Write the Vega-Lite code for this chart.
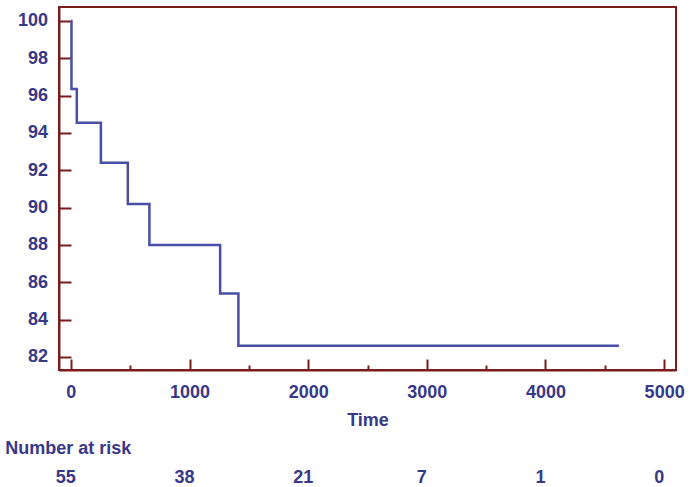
{
  "$schema": "https://vega.github.io/schema/vega-lite/v6.json",
  "width": 617,
  "height": 363,
  "autosize": {"type": "none"},
  "padding": {"left": 59, "top": 7, "right": 13, "bottom": 117},
  "background": "white",
  "config": {
    "view": {"stroke": "#7b1c1c", "strokeWidth": 2},
    "font": "Liberation Sans",
    "axis": {
      "domainColor": "#7b1c1c",
      "domainWidth": 2,
      "tickColor": "#7b1c1c",
      "tickWidth": 2,
      "grid": false,
      "labelColor": "#383888",
      "labelFontSize": 18,
      "labelFontWeight": "bold",
      "titleColor": "#383888",
      "titleFontSize": 18,
      "titleFontWeight": "bold"
    }
  },
  "datasets": {
    "km": [
      {"time": 0, "surv": 100},
      {"time": 5, "surv": 96.36},
      {"time": 50, "surv": 94.55},
      {"time": 253, "surv": 92.4},
      {"time": 480, "surv": 90.2},
      {"time": 662, "surv": 88.0},
      {"time": 1258, "surv": 85.4},
      {"time": 1412, "surv": 82.6},
      {"time": 4619, "surv": 82.6}
    ],
    "risk": [
      {"time": 0, "n": 55},
      {"time": 1000, "n": 38},
      {"time": 2000, "n": 21},
      {"time": 3000, "n": 7},
      {"time": 4000, "n": 1},
      {"time": 5000, "n": 0}
    ],
    "label": [{"text": "Number at risk"}]
  },
  "layer": [
    {
      "data": {"name": "km"},
      "mark": {"type": "line", "interpolate": "step-after", "color": "#4a4ea6", "strokeWidth": 2.5},
      "encoding": {
        "x": {
          "field": "time",
          "type": "quantitative",
          "scale": {"domain": [-100, 5100], "nice": false, "zero": false},
          "axis": {
            "title": "Time",
            "values": [0, 500, 1000, 1500, 2000, 2500, 3000, 3500, 4000, 4500, 5000],
            "labelExpr": "datum.value % 1000 === 0 ? datum.label : ''",
            "format": "d",
            "tickSize": {"condition": {"test": "datum.value % 1000 === 0", "value": -11}, "value": -5},
            "labelPadding": 24,
            "titlePadding": 10
          }
        },
        "y": {
          "field": "surv",
          "type": "quantitative",
          "scale": {"domain": [81.3, 100.75], "nice": false, "zero": false},
          "axis": {
            "title": null,
            "values": [82, 83, 84, 85, 86, 87, 88, 89, 90, 91, 92, 93, 94, 95, 96, 97, 98, 99, 100],
            "labelExpr": "datum.value % 2 === 0 ? datum.label : ''",
            "tickSize": {"condition": {"test": "datum.value % 2 === 0", "value": -12}, "value": -6},
            "labelPadding": 23.5
          }
        }
      }
    },
    {
      "data": {"name": "risk"},
      "mark": {"type": "text", "fontSize": 18, "fontWeight": "bold", "color": "#383888", "align": "center", "baseline": "middle", "dx": -5},
      "encoding": {
        "x": {"field": "time", "type": "quantitative"},
        "y": {"datum": 75.5},
        "text": {"field": "n", "type": "quantitative"}
      }
    },
    {
      "data": {"name": "label"},
      "mark": {"type": "text", "fontSize": 18, "fontWeight": "bold", "color": "#383888", "align": "left", "baseline": "middle"},
      "encoding": {
        "x": {"datum": -553},
        "y": {"datum": 77.06},
        "text": {"field": "text"}
      }
    }
  ]
}
